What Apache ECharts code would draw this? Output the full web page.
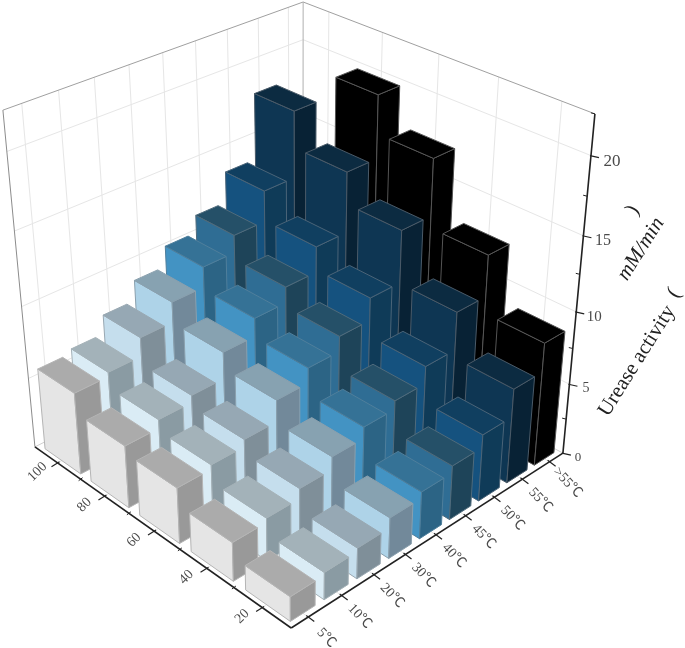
<!DOCTYPE html>
<html>
<head>
<meta charset="utf-8">
<title>Urease activity</title>
<script src="https://cdn.jsdelivr.net/npm/echarts@6/dist/echarts.min.js"></script>
<style>
html, body { margin: 0; padding: 0; background: #fff; }
#chart { width: 685px; height: 648px; }
</style>
</head>
<body>
<div id="chart"></div>
<script>
// categories
const temps = ["5℃", "10℃", "20℃", "30℃", "40℃", "45℃", "50℃", "55℃", ">55℃"];
const concs = ["20", "40", "60", "80", "100"];
const zTicks = [0, 5, 10, 15, 20];
const zMax = 22.5;

// activity per temperature, one value per concentration (20..100)
const t5 = [1.7, 2.7, 3.9, 4.4, 5.8];
const t10 = [1.9, 3, 4.2, 5, 6.1];
const t20 = [2.15, 3.7, 4.7, 5.5, 7.4];
const t30 = [2.85, 4.6, 6.2, 7.35, 8.8];
const t40 = [3.3, 5.4, 7.25, 8.6, 10.2];
const t45 = [3.8, 6, 8.3, 9.7, 11.4];
const t50 = [4.7, 7.2, 9.85, 11.45, 13.5];
const t55 = [6.65, 9.8, 13.4, 15.55, 18];
const tOver55 = [8.65, 12.6, 17.2, 19.75, null];
const rows = [t5, t10, t20, t30, t40, t45, t50, t55, tOver55];

// face colours per temperature row: left face, top, right face
const faceLeft = ["#e5e5e5", "#daecf5", "#c5deed", "#aed3e8", "#4393c3", "#2f6d94", "#15527f", "#0e3653", "#000000"];
const faceTop = ["#ababab", "#a3b2b9", "#96a8b4", "#87a2b1", "#357296", "#255068", "#103f60", "#0c2b41", "#000000"];
const faceRight = ["#999999", "#8a9ba3", "#7f8f99", "#72899a", "#2c6485", "#1e4459", "#0f3b58", "#082235", "#000000"];
const edgeColor = ["#b5b5b5", "#a5b2b8", "#99a8b2", "#8aa0ae", "#4f7f9c", "#4f6b7c", "#4a6478", "#4a5a68", "#555555"];

// where the box corners land on the page [tempPos, concPos, height, px, py]
const boxCorners = [
  [0, 0, 0, 291, 628],
  [1, 0, 0, 563, 453],
  [0, 1, 0, 35, 447],
  [1, 0, 1, 595, 114],
  [0, 1, 1, 3, 110],
  [1, 1, 1, 303, 2]
];

// solve the camera matrix from the corners (least squares)
function solveCamera(pts) {
  const A = [];
  const b = [];
  pts.forEach(([X, Y, Z, u, v]) => {
    A.push([X, Y, Z, 1, 0, 0, 0, 0, -u * X, -u * Y, -u * Z]);
    b.push(u);
    A.push([0, 0, 0, 0, X, Y, Z, 1, -v * X, -v * Y, -v * Z]);
    b.push(v);
  });
  const n = 11;
  const M = [];
  for (let i = 0; i < n; i++) {
    M.push([]);
    for (let j = 0; j <= n; j++) {
      let s = 0;
      for (let k = 0; k < A.length; k++) {
        s += A[k][i] * (j === n ? b[k] : A[k][j]);
      }
      M[i].push(s);
    }
  }
  for (let i = 0; i < n; i++) {
    let p = i;
    for (let r = i + 1; r < n; r++) {
      if (Math.abs(M[r][i]) > Math.abs(M[p][i])) p = r;
    }
    [M[i], M[p]] = [M[p], M[i]];
    for (let r = 0; r < n; r++) {
      if (r === i) continue;
      const f = M[r][i] / M[i][i];
      for (let j = i; j <= n; j++) M[r][j] -= f * M[i][j];
    }
  }
  return M.map((row, i) => row[n] / row[i]);
}
const cam = solveCamera(boxCorners);

function project(x, y, z) {
  const d = cam[8] * x + cam[9] * y + cam[10] * z + 1;
  return [
    (cam[0] * x + cam[1] * y + cam[2] * z + cam[3]) / d,
    (cam[4] * x + cam[5] * y + cam[6] * z + cam[7]) / d
  ];
}

const concPos = (c) => echarts.number.linearMap(c, [0, concs.length], [0, 1]);

// hidden cartesian grid gives the temp band and height scale
function unitX(api, cs, i) {
  return (api.coord([i, 0])[0] - cs.x) / cs.width;
}
function unitZ(api, cs, v) {
  return (cs.y + cs.height - api.coord([0, v])[1]) / cs.height;
}

function line(a, b, stroke, width) {
  return {
    type: "line",
    silent: true,
    shape: { x1: a[0], y1: a[1], x2: b[0], y2: b[1] },
    style: { stroke, lineWidth: width }
  };
}
function label(text, p, rot, size, fill) {
  return {
    type: "text",
    silent: true,
    x: p[0],
    y: p[1],
    rotation: rot,
    style: {
      text,
      fill,
      align: "center",
      verticalAlign: "middle",
      font: `${size}px "Liberation Serif", "Noto Sans CJK SC"`
    }
  };
}

function renderWalls(params, api) {
  const cs = params.coordSys;
  const els = [];
  const gridCol = "#e6e6e6";
  temps.forEach((t, i) => {
    const x = unitX(api, cs, i);
    els.push(line(project(x, 1, 0), project(x, 1, 1), gridCol, 1));
    els.push(line(project(x, 0, 0), project(x, 1, 0), gridCol, 1));
  });
  concs.forEach((c, i) => {
    const y = concPos(i + 0.5);
    els.push(line(project(1, y, 0), project(1, y, 1), gridCol, 1));
    els.push(line(project(0, y, 0), project(1, y, 0), gridCol, 1));
  });
  zTicks.slice(1).forEach((v) => {
    const z = unitZ(api, cs, v);
    els.push(line(project(0, 1, z), project(1, 1, z), gridCol, 1));
    els.push(line(project(1, 1, z), project(1, 0, z), gridCol, 1));
  });
  // box edges
  els.push(line(project(0, 1, 1), project(1, 1, 1), "#a0a0a0", 1));
  els.push(line(project(1, 1, 1), project(1, 0, 1), "#a0a0a0", 1));
  els.push(line(project(1, 1, 0), project(1, 1, 1), "#b0b0b0", 1));
  els.push(line(project(0, 1, 0), project(0, 1, 1), "#8c8c8c", 1));
  els.push(line(project(0, 1, 0), project(1, 1, 0), "#d0d0d0", 1));
  els.push(line(project(1, 0, 0), project(1, 1, 0), "#d0d0d0", 1));
  return { type: "group", children: els };
}

function renderBar(params, api) {
  const cs = params.coordSys;
  const t = api.value(0);
  const v = api.value(1);
  const c = api.value(2);
  const xc = unitX(api, cs, t);
  const bandX = api.size([1, 0])[0] / cs.width;
  const yc = concPos(c + 0.5);
  const bandY = concPos(1) - concPos(0);
  const z = unitZ(api, cs, v);
  const x0 = xc - bandX * 0.37;
  const x1 = xc + bandX * 0.36;
  const y0 = yc - bandY * 0.41;
  const y1 = yc + bandY * 0.37;
  const poly = (pts, fill) => ({
    type: "polygon",
    shape: { points: pts },
    style: { fill, stroke: edgeColor[t], lineWidth: 1, lineJoin: "round" }
  });
  return {
    type: "group",
    children: [
      poly([project(x0, y0, 0), project(x0, y1, 0), project(x0, y1, z), project(x0, y0, z)], faceLeft[t]),
      poly([project(x0, y0, 0), project(x1, y0, 0), project(x1, y0, z), project(x0, y0, z)], faceRight[t]),
      poly([project(x0, y0, z), project(x0, y1, z), project(x1, y1, z), project(x1, y0, z)], faceTop[t])
    ]
  };
}

function renderAxes(params, api) {
  const cs = params.coordSys;
  const els = [];
  const ink = "#222222";
  const text = "#4a4a4a";
  const o = project(0, 0, 0);
  els.push(line(o, project(1, 0, 0), ink, 1.6));
  els.push(line(o, project(0, 1, 0), ink, 1.6));
  els.push(line(project(1, 0, 0), project(1, 0, 1), ink, 1.6));

  // temperature axis
  temps.forEach((t, i) => {
    const p = project(unitX(api, cs, i), 0, 0);
    els.push(line([p[0] - 2, p[1] - 1.5], [p[0] + 6, p[1] + 4.5], ink, 1.2));
    els.push(label(t, [p[0] + 18, p[1] + 21], -0.82, 14, text));
  });
  // concentration axis
  concs.forEach((c, i) => {
    const p = project(0, concPos(i + 0.5), 0);
    els.push(line([p[0] - 6, p[1] + 4], [p[0] + 2, p[1] - 1], ink, 1.2));
    els.push(label(c, [p[0] - 20, p[1] + 9], 0.78, 14, text));
    const m = project(0, concPos(i + 1), 0);
    if (i < concs.length - 1) {
      els.push(line([m[0] - 2, m[1] + 1.5], [m[0] + 2, m[1] - 1.5], ink, 1));
    }
  });
  // height axis
  for (let v = 0; v <= zMax; v += 2.5) {
    const p = project(1, 0, unitZ(api, cs, v));
    if (zTicks.includes(v)) {
      els.push(line([p[0] - 1, p[1]], [p[0] + 8, p[1] + 2], ink, 1.2));
      els.push(label(String(v), [p[0] + 15 + v * 0.3, p[1] + 4 + v * 0.1], 0, 13 + v * 0.2, text));
    } else {
      els.push(line([p[0] - 4, p[1] - 1], [p[0], p[1]], ink, 1));
    }
  }
  return { type: "group", children: els };
}

const barData = [];
for (let t = temps.length - 1; t >= 0; t--) {
  for (let c = concs.length - 1; c >= 0; c--) {
    if (rows[t][c] !== null) barData.push([t, rows[t][c], c]);
  }
}

const titleFont = '21px "Liberation Serif"';
const chart = echarts.init(document.getElementById("chart"), null, { renderer: "canvas" });
chart.setOption({
  animation: false,
  backgroundColor: "#fff",
  grid: { left: 0, right: 0, top: 0, bottom: 0 },
  xAxis: { type: "category", data: temps, show: false },
  yAxis: { type: "value", min: 0, max: zMax, show: false },
  series: [
    { type: "custom", name: "walls", renderItem: renderWalls, data: [[0, 0]], silent: true },
    { type: "custom", name: "bars", renderItem: renderBar, data: barData, encode: { x: 0, y: 1 } },
    { type: "custom", name: "axes", renderItem: renderAxes, data: [[0, 0]], silent: true }
  ],
  graphic: [
    { type: "text", x: 637, y: 361, rotation: 1.01, silent: true,
      style: { text: "Urease activity", font: titleFont, fill: "#222", align: "center", verticalAlign: "middle" } },
    { type: "text", x: 674, y: 293, rotation: 1.01, silent: true,
      style: { text: "(", font: titleFont, fill: "#222", align: "center", verticalAlign: "middle" } },
    { type: "text", x: 641, y: 249, rotation: 1.01, silent: true,
      style: { text: "mM/min", font: 'italic ' + titleFont, fill: "#222", align: "center", verticalAlign: "middle" } },
    { type: "text", x: 633, y: 210, rotation: 1.01, silent: true,
      style: { text: ")", font: titleFont, fill: "#222", align: "center", verticalAlign: "middle" } }
  ]
});
</script>
</body>
</html>
